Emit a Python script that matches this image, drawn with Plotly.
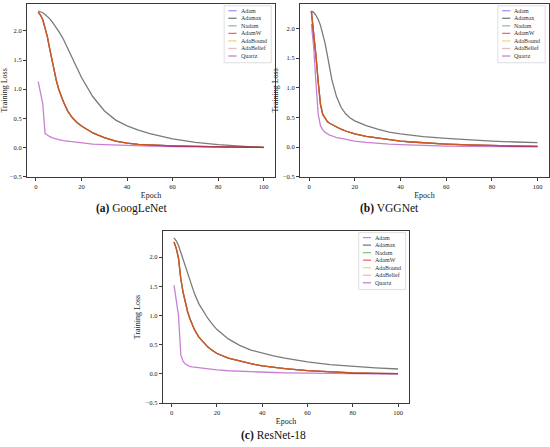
import plotly.graph_objects as go

epochs = [1, 2, 3, 4, 5, 6, 7, 8, 9, 10, 12, 14, 16, 18, 20, 25, 30, 35, 40, 45, 50, 60, 70, 80, 90, 100]

optimizers = ["Adam", "Adamax", "Nadam", "AdamW", "AdaBound", "AdaBelief", "Quartz"]
line_colors = ["rgba(0,0,255,0.4)", "rgba(0,0,0,0.52)", "rgba(0,128,0,0.45)", "rgba(255,0,0,0.6)",
               "rgba(255,165,0,0.5)", "rgba(165,42,42,0.3)", "rgba(150,0,170,0.5)"]

# (a) GoogLeNet -- Adam, Nadam, AdamW, AdaBound, AdaBelief lie on top of each other
googlenet_adam = [2.32, 2.27, 2.19, 2.06, 1.90, 1.70, 1.49, 1.30, 1.14, 1.00, 0.79, 0.62, 0.51, 0.43, 0.37,
                  0.25, 0.17, 0.11, 0.075, 0.055, 0.045, 0.03, 0.02, 0.012, 0.006, 0.002]
googlenet_adamax = [2.34, 2.33, 2.31, 2.28, 2.25, 2.21, 2.16, 2.11, 2.05, 1.99, 1.86, 1.69, 1.52, 1.35, 1.20,
                    0.87, 0.63, 0.47, 0.37, 0.30, 0.24, 0.15, 0.09, 0.05, 0.02, 0.0]
googlenet_quartz = [1.13, 0.95, 0.75, 0.24, 0.21, 0.19, 0.17, 0.155, 0.145, 0.135, 0.12, 0.11, 0.10, 0.09, 0.08,
                    0.06, 0.05, 0.042, 0.035, 0.03, 0.025, 0.018, 0.012, 0.008, 0.005, 0.002]

# (b) VGGNet
vggnet_adam = [2.29, 1.95, 1.55, 1.10, 0.72, 0.55, 0.48, 0.43, 0.40, 0.38, 0.33, 0.30, 0.27, 0.245, 0.22,
               0.18, 0.15, 0.12, 0.10, 0.085, 0.07, 0.05, 0.035, 0.025, 0.015, 0.01]
vggnet_adamax = [2.29, 2.27, 2.22, 2.15, 2.05, 1.92, 1.75, 1.55, 1.33, 1.13, 0.85, 0.67, 0.56, 0.49, 0.44,
                 0.36, 0.30, 0.25, 0.22, 0.195, 0.175, 0.145, 0.12, 0.10, 0.085, 0.075]
vggnet_quartz = [2.08, 1.70, 1.10, 0.55, 0.36, 0.29, 0.25, 0.22, 0.20, 0.19, 0.16, 0.145, 0.13, 0.115, 0.10,
                 0.08, 0.06, 0.05, 0.04, 0.032, 0.025, 0.015, 0.01, 0.008, 0.005, 0.003]

# (c) ResNet-18
resnet_adam = [2.26, 2.15, 1.98, 1.63, 1.40, 1.22, 1.07, 0.95, 0.85, 0.76, 0.63, 0.54, 0.46, 0.40, 0.35,
               0.27, 0.22, 0.175, 0.14, 0.11, 0.09, 0.057, 0.035, 0.02, 0.01, 0.005]
resnet_adamax = [2.33, 2.28, 2.20, 2.08, 1.95, 1.82, 1.70, 1.58, 1.48, 1.38, 1.20, 1.07, 0.95, 0.85, 0.76,
                 0.60, 0.49, 0.41, 0.355, 0.31, 0.27, 0.205, 0.16, 0.13, 0.105, 0.085]
resnet_quartz = [1.52, 1.25, 1.00, 0.33, 0.22, 0.17, 0.145, 0.13, 0.12, 0.115, 0.105, 0.097, 0.09, 0.08, 0.07,
                 0.055, 0.045, 0.037, 0.03, 0.025, 0.02, 0.012, 0.008, 0.005, 0.003, 0.002]

captions = ["GoogLeNet", "VGGNet", "ResNet-18"]
caption_tags = ["(a)", "(b)", "(c)"]
y_tops = [2.46, 2.41, 2.45]

panels = [
    (googlenet_adam, googlenet_adamax, googlenet_quartz),
    (vggnet_adam, vggnet_adamax, vggnet_quartz),
    (resnet_adam, resnet_adamax, resnet_quartz),
]

x_domains = [[0.049, 0.5], [0.5455, 0.998], [0.296, 0.744]]
y_domains = [[0.602, 0.991], [0.602, 0.991], [0.092, 0.480]]
caption_pos = [(0.2395, 0.530), (0.709, 0.530), (0.498, 0.0195)]

FONT = "Liberation Serif"

fig = go.Figure()
for i, (adam_like, adamax, quartz) in enumerate(panels):
    sfx = "" if i == 0 else str(i + 1)
    series = {"Adam": adam_like, "Adamax": adamax, "Nadam": adam_like, "AdamW": adam_like,
              "AdaBound": adam_like, "AdaBelief": adam_like, "Quartz": quartz}
    for name, col in zip(optimizers, line_colors):
        fig.add_trace(go.Scatter(x=epochs, y=series[name], mode="lines", name=name,
                                 line=dict(color=col, width=1.3), showlegend=False,
                                 xaxis="x" + sfx, yaxis="y" + sfx))

    axis_common = dict(showgrid=False, zeroline=False, showline=True, linecolor="#3a3a3a", linewidth=1,
                       mirror=True, ticks="outside", ticklen=3, tickcolor="#3a3a3a",
                       tickfont=dict(family=FONT, size=6.5, color="#222"))
    fig.update_layout(**{
        "xaxis" + sfx: dict(axis_common, domain=x_domains[i], anchor="y" + sfx, range=[-3.95, 104.95],
                            tickvals=[0, 20, 40, 60, 80, 100],
                            title=dict(text="Epoch", font=dict(family=FONT, size=8, color="#222"), standoff=3)),
        "yaxis" + sfx: dict(axis_common, domain=y_domains[i], anchor="x" + sfx, range=[-0.5, y_tops[i]],
                            tickvals=[-0.5, 0, 0.5, 1.0, 1.5, 2.0],
                            ticktext=["\u22120.5", "0.0", "0.5", "1.0", "1.5", "2.0"],
                            title=dict(text="Training Loss", font=dict(family=FONT, size=8, color="#222"), standoff=3)),
    })

    # hand-built legend, matplotlib spacing is tighter than plotly's own legend allows
    xr, yr = "x" + sfx + " domain", "y" + sfx + " domain"
    fig.add_shape(type="rect", xref=xr, yref=yr, x0=0.795, x1=0.985, y0=0.66, y1=0.99,
                  line=dict(color="#d6d6d6", width=0.8), fillcolor="white", layer="above")
    for k, (name, col) in enumerate(zip(optimizers, line_colors)):
        yy = 0.961 - k * 0.0437
        fig.add_shape(type="line", xref=xr, yref=yr, x0=0.812, x1=0.845, y0=yy, y1=yy,
                      line=dict(color=col, width=1.3), layer="above")
        fig.add_annotation(xref=xr, yref=yr, x=0.853, y=yy, text=name, showarrow=False,
                           xanchor="left", yanchor="middle",
                           font=dict(family=FONT, size=6, color="#333"))

    cx, cy = caption_pos[i]
    fig.add_annotation(xref="paper", yref="paper", x=cx, y=cy, showarrow=False,
                       text="<b>" + caption_tags[i] + "</b> " + captions[i],
                       xanchor="center", yanchor="middle",
                       font=dict(family=FONT, size=11.5, color="#111"))

fig.update_layout(width=550, height=447, margin=dict(l=0, r=0, t=0, b=0),
                  plot_bgcolor="white", paper_bgcolor="white")

# the page body has a default 8px margin that would push the figure off the window
fig.write_html("out.html", config={"displayModeBar": False},
               post_script="document.body.style.margin='0px';")
